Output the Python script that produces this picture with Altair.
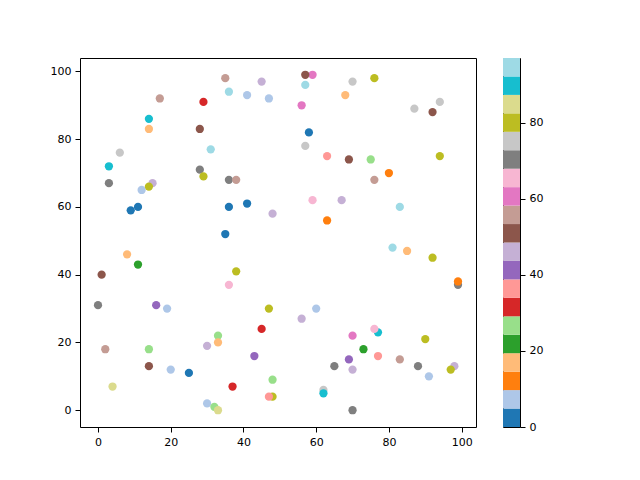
import pandas as pd
import altair as alt

# Punktdata lest av bildet (x, y og fargeverdi)
x_vals = [17, 29, 14, 14, 28, 6, 31, 3, 28, 29, 3, 15, 12, 14, 11, 9,
          35, 45, 59, 57, 36, 41, 47, 57, 68, 56, 58, 57, 63, 36, 38, 36,
          41, 48, 59, 67, 63, 35, 69, 70, 76, 87, 94, 92, 75, 94, 80, 76,
          83, 8, 11, 1, 0, 16, 19, 2, 14, 30, 14, 20, 25, 4, 30, 38,
          36, 47, 56, 60, 45, 33, 33, 43, 65, 37, 48, 48, 47, 62, 62, 32,
          33, 81, 85, 92, 99, 99, 77, 76, 70, 90, 73, 77, 69, 83, 70, 88,
          91, 98, 97, 70]
y_vals = [92, 91, 86, 83, 83, 76, 77, 72, 71, 69, 67, 67, 65, 66, 60, 59,
          98, 97, 99, 99, 94, 93, 92, 96, 93, 90, 82, 78, 75, 68, 68, 60,
          61, 58, 62, 62, 56, 52, 74, 97, 98, 89, 91, 88, 74, 75, 70, 68,
          60, 46, 43, 40, 31, 31, 30, 18, 18, 19, 13, 12, 11, 7, 2, 41,
          37, 30, 27, 30, 24, 22, 20, 16, 13, 7, 9, 4, 4, 6, 5, 1,
          0, 48, 47, 45, 37, 38, 23, 24, 22, 21, 18, 16, 15, 15, 12, 13,
          10, 13, 12, 0]
c_vals = [56, 32, 90, 17, 51, 75, 95, 90, 70, 80, 70, 46, 7, 80, 2, 2,
          56, 46, 61, 51, 95, 7, 7, 95, 17, 61, 2, 75, 36, 70, 56, 2,
          2, 46, 65, 46, 12, 2, 51, 75, 80, 75, 75, 51, 27, 80, 12, 56,
          95, 17, 22, 51, 70, 41, 7, 56, 27, 46, 51, 7, 2, 85, 7, 80,
          65, 80, 46, 7, 32, 27, 17, 41, 70, 32, 27, 80, 36, 75, 90, 27,
          85, 95, 17, 80, 70, 12, 90, 65, 61, 80, 22, 36, 41, 56, 46, 70,
          7, 46, 80, 70]

# tab20-fargene og grensene i fargeskalaen (0 til 97 i 20 trinn)
tab20 = ['#1f77b4', '#aec7e8', '#ff7f0e', '#ffbb78', '#2ca02c', '#98df8a',
         '#d62728', '#ff9896', '#9467bd', '#c5b0d5', '#8c564b', '#c49c94',
         '#e377c2', '#f7b6d2', '#7f7f7f', '#c7c7c7', '#bcbd22', '#dbdb8d',
         '#17becf', '#9edae5']
band_edges = [0, 4.85, 9.7, 14.55, 19.4, 24.25, 29.1, 33.95, 38.8, 43.65, 48.5,
              53.35, 58.2, 63.05, 67.9, 72.75, 77.6, 82.45, 87.3, 92.15, 97]
ticks = [0, 20, 40, 60, 80, 100]
cbar_ticks = [0, 20, 40, 60, 80]

df = pd.DataFrame({'x': x_vals, 'y': y_vals, 'c': c_vals})
bands = pd.DataFrame({'band': list(range(20)),
                      'lo': band_edges[:-1],
                      'hi': band_edges[1:]})

scatter = alt.Chart(df).mark_circle(size=68, opacity=1).encode(
    x=alt.X('x:Q', title=None,
            scale=alt.Scale(domain=[-4.95, 103.95], nice=False, zero=False),
            axis=alt.Axis(values=ticks, grid=False)),
    y=alt.Y('y:Q', title=None,
            scale=alt.Scale(domain=[-4.95, 103.95], nice=False, zero=False),
            axis=alt.Axis(values=ticks, grid=False)),
    color=alt.Color('c:Q',
                    scale=alt.Scale(type='quantize', domain=[0, 97], range=tab20),
                    legend=None)
).properties(width=396, height=369)

# Fargestolpe som eget lite diagram
colorbar = alt.Chart(bands).mark_rect().encode(
    y=alt.Y('lo:Q', title=None,
            scale=alt.Scale(domain=[0, 97], nice=False, zero=False),
            axis=alt.Axis(orient='right', values=cbar_ticks, grid=False)),
    y2='hi:Q',
    color=alt.Color('band:O', scale=alt.Scale(range=tab20), legend=None)
).properties(width=17, height=369)

chart = alt.hconcat(scatter, colorbar, spacing=25).resolve_scale(
    color='independent'
).properties(
    padding={'left': 41, 'top': 49, 'right': 5, 'bottom': 5}
).configure_view(
    stroke='black',
    strokeWidth=1
).configure_axis(
    domain=False,
    tickColor='black',
    tickSize=5,
    tickWidth=1,
    labelColor='black',
    labelFont='DejaVu Sans',
    labelFontSize=11,
    labelPadding=4
)

chart.save("out.html", embed_options={"renderer": "svg", "actions": False})
